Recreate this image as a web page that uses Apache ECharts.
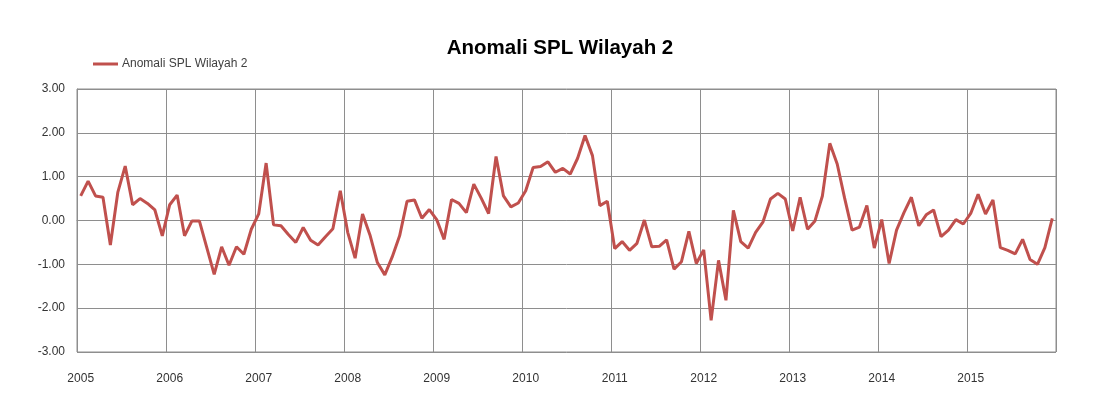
<!DOCTYPE html>
<html>
<head>
<meta charset="utf-8">
<script src="https://cdn.jsdelivr.net/npm/echarts@6/dist/echarts.min.js"></script>
<style>
  html, body { margin: 0; padding: 0; background: #fff; }
  #chart { width: 1096px; height: 418px; }
</style>
</head>
<body>
<div id="chart"></div>
<script>
// monthly anomaly, Jan 2005 .. Dec 2015
const years = ['2005', '2006', '2007', '2008', '2009', '2010', '2011', '2012', '2013', '2014', '2015']
const months = ['01', '02', '03', '04', '05', '06', '07', '08', '09', '10', '11', '12']

const anomali = [
  0.56, 0.90, 0.56, 0.53, -0.56, 0.64, 1.24, 0.36, 0.50, 0.39, 0.24, -0.35,
  0.36, 0.58, -0.35, -0.01, -0.01, -0.62, -1.23, -0.60, -1.02, -0.60, -0.77, -0.20,
  0.15, 1.31, -0.10, -0.12, -0.32, -0.50, -0.16, -0.45, -0.56, -0.37, -0.19, 0.68,
  -0.27, -0.86, 0.15, -0.33, -0.96, -1.24, -0.83, -0.35, 0.44, 0.47, 0.05, 0.25,
  0.02, -0.43, 0.48, 0.39, 0.18, 0.83, 0.51, 0.16, 1.46, 0.56, 0.31, 0.40,
  0.68, 1.21, 1.23, 1.34, 1.10, 1.19, 1.06, 1.42, 1.94, 1.48, 0.34, 0.44,
  -0.64, -0.48, -0.68, -0.52, 0.01, -0.60, -0.59, -0.44, -1.11, -0.94, -0.25, -0.98,
  -0.67, -2.28, -0.91, -1.82, 0.23, -0.48, -0.63, -0.27, -0.03, 0.49, 0.62, 0.49,
  -0.24, 0.53, -0.20, -0.01, 0.56, 1.76, 1.29, 0.51, -0.22, -0.15, 0.34, -0.63,
  0.02, -0.98, -0.22, 0.18, 0.53, -0.12, 0.13, 0.24, -0.37, -0.22, 0.02, -0.08,
  0.16, 0.60, 0.15, 0.47, -0.62, -0.68, -0.76, -0.43, -0.89, -1.00, -0.62, 0.05
]

const yTicks = [-3, -2, -1, 0, 1, 2, 3]

const categories = []
years.forEach(y => months.forEach(m => categories.push(y + '-' + m)))

const font = '"Liberation Sans", Arial, sans-serif'
const gridColor = '#8e8e8e'

const chart = echarts.init(document.getElementById('chart'))

chart.setOption({
  backgroundColor: '#fff',
  animation: false,
  title: {
    text: 'Anomali SPL Wilayah 2',
    left: 555,
    top: 33,
    textAlign: 'center',
    textStyle: {
      fontFamily: font,
      fontSize: 20.5,
      fontWeight: 'bold',
      color: '#000'
    }
  },
  legend: {
    left: 88,
    top: 53,
    icon: 'rect',
    itemWidth: 25,
    itemHeight: 3,
    itemGap: 5,
    textStyle: {
      fontFamily: font,
      fontSize: 12,
      color: '#404040',
      padding: [0, 0, 0, -1]
    },
    data: ['Anomali SPL Wilayah 2']
  },
  grid: {
    left: 77,
    right: 40,
    top: 89,
    bottom: 66,
    show: true,
    borderColor: gridColor,
    borderWidth: 1
  },
  xAxis: {
    type: 'category',
    data: categories,
    boundaryGap: true,
    axisLine: { show: true, lineStyle: { color: gridColor } },
    axisTick: { show: false },
    axisLabel: {
      interval: 11,
      margin: 21,
      fontFamily: font,
      fontSize: 12,
      color: '#333',
      formatter: v => v.slice(0, 4)
    },
    splitLine: {
      show: true,
      interval: 11,
      lineStyle: { color: gridColor, width: 1 }
    }
  },
  yAxis: {
    type: 'value',
    min: yTicks[0],
    max: yTicks[yTicks.length - 1],
    interval: 1,
    axisLine: { show: true, lineStyle: { color: gridColor } },
    axisTick: { show: false },
    axisLabel: {
      margin: 12,
      fontFamily: font,
      fontSize: 12,
      color: '#333',
      formatter: v => v.toFixed(2)
    },
    splitLine: {
      lineStyle: { color: gridColor, width: 1 }
    }
  },
  series: [{
    name: 'Anomali SPL Wilayah 2',
    type: 'line',
    data: anomali,
    symbol: 'none',
    lineStyle: { color: '#c0504d', width: 3 },
    itemStyle: { color: '#c0504d' }
  }]
})
</script>
</body>
</html>
